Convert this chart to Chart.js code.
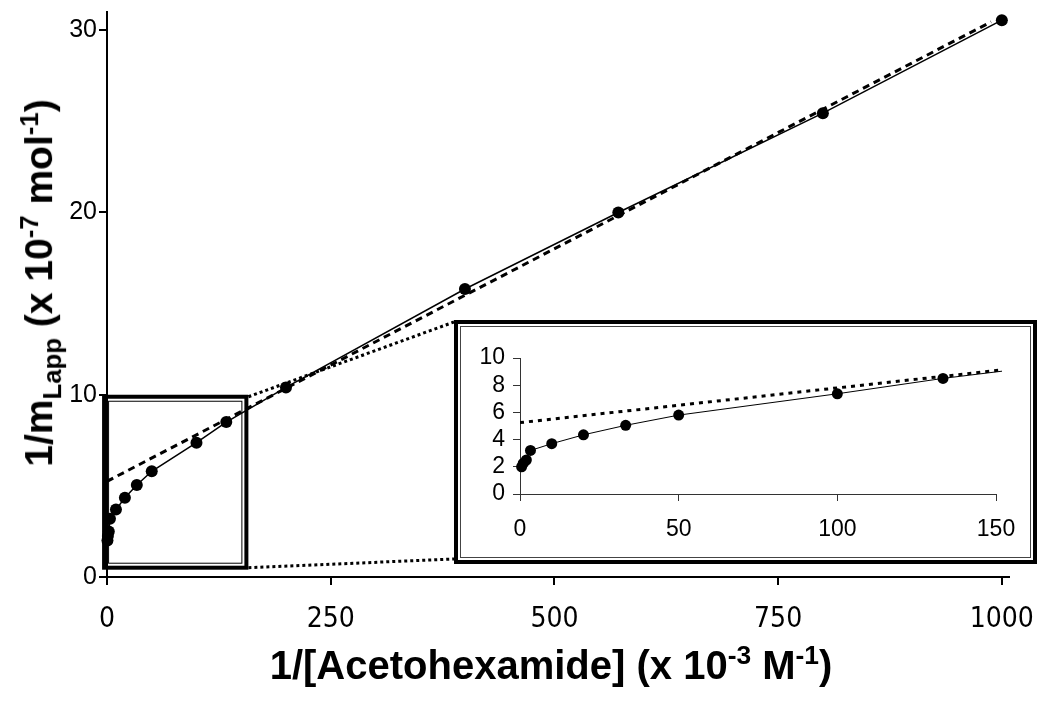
<!DOCTYPE html>
<html>
<head>
<meta charset="utf-8">
<script src="https://cdn.jsdelivr.net/npm/chart.js@4.4.1/dist/chart.umd.min.js"></script>
<style>
  body { margin: 0; background: #fff; }
  #wrap { position: relative; width: 1050px; height: 701px; overflow: hidden; }
  #main { position: absolute; left: 0; top: 0; }
  #inset {
    position: absolute; box-sizing: border-box;
    border: 4px solid #000; padding: 2px; background: #fff;
  }
  #inset .inner { box-sizing: border-box; border: 1px solid #444; width: 100%; height: 100%; }
  .title { position: absolute; color: #000; white-space: nowrap; font-weight: bold; font-family: "Liberation Sans", Arial, sans-serif; }
  .title sup, .title sub { font-size: 66%; }
  #xtitle { font-size: 40px; left: 551px; top: 664px; transform: translate(-50%, -50%); }
  #ytitle { font-size: 39px; left: 41px; top: 283px; transform: translate(-50%, -50%) rotate(-90deg); }
</style>
</head>
<body>
<div id="wrap">
  <canvas id="main" width="1050" height="701"></canvas>
  <div id="inset"><div class="inner"><canvas id="insetCanvas"></canvas></div></div>
  <div class="title" id="xtitle">1/[Acetohexamide] (x 10<sup>-3</sup> M<sup>-1</sup>)</div>
  <div class="title" id="ytitle">1/m<sub>Lapp</sub> (x 10<sup>-7</sup> mol<sup>-1</sup>)</div>
</div>
<script>
// measured points
const invConc = [0.5, 1, 2, 3.3, 10, 20, 33.3, 50, 100, 133.3, 200, 400, 571.4, 800, 1000]
const invMass = [2.0, 2.25, 2.5, 3.2, 3.7, 4.35, 5.05, 5.8, 7.37, 8.5, 10.4, 15.8, 20.0, 25.45, 30.55]
// linear fit (dashed), end points
const fitX = [0, 988]
const fitY = [5.25, 30.46]
// ticks
const mainXTicks = [0, 250, 500, 750, 1000]
const mainYTicks = [0, 10, 20, 30]
const insetXTicks = [0, 50, 100, 150]
const insetYTicks = [0, 2, 4, 6, 8, 10]
// region of the main plot that the inset magnifies
const zoomX = [-5.5, 158]
const zoomY = [0.4, 10]

const INSET = { left: 454, top: 320, width: 583, height: 244 }
const insetEl = document.getElementById('inset')
insetEl.style.left = INSET.left + 'px'
insetEl.style.top = INSET.top + 'px'
insetEl.style.width = INSET.width + 'px'
insetEl.style.height = INSET.height + 'px'

const SANS = '"Liberation Sans", Arial, sans-serif'
const NARROW = '"Liberation Sans Narrow", "DejaVu Sans Condensed", sans-serif'

const pts = () => invConc.map((x, i) => ({ x, y: invMass[i] }))
const fitPts = () => fitX.map((x, i) => ({ x, y: fitY[i] }))

const onlyTicks = list => scale => { scale.ticks = list.map(v => ({ value: v })) }
// fixed axis box, no extra label padding
const fixW = w => s => { s.width = w; s.paddingTop = 0; s.paddingBottom = 0 }
const fixH = h => s => { s.height = h; s.paddingLeft = 0; s.paddingRight = 0 }
const plain = v => String(v)

const zoomBoxPlugin = {
  id: 'zoomBox',
  afterDraw(chart) {
    const { ctx, scales: { x, y } } = chart
    const l = x.getPixelForValue(zoomX[0]), r = x.getPixelForValue(zoomX[1])
    const t = y.getPixelForValue(zoomY[1]), b = y.getPixelForValue(zoomY[0])
    ctx.save()
    ctx.strokeStyle = '#000'
    ctx.lineWidth = 4
    ctx.strokeRect(l + 2, t + 2, r - l - 4, b - t - 4)
    ctx.lineWidth = 1
    ctx.strokeRect(l + 6.5, t + 6.5, r - l - 13, b - t - 13)
    // dotted connectors to the inset frame
    ctx.lineWidth = 3
    ctx.setLineDash([3, 3])
    ctx.beginPath()
    ctx.moveTo(r, t + 2)
    ctx.lineTo(INSET.left, INSET.top + 2)
    ctx.moveTo(r, b - 2)
    ctx.lineTo(INSET.left, INSET.top + INSET.height - 5)
    ctx.stroke()
    ctx.restore()
  }
}

function drawMain() {
  new Chart(document.getElementById('main'), {
    type: 'scatter',
    data: {
      datasets: [
        { data: fitPts(), showLine: true, borderColor: '#000', borderWidth: 3, borderDash: [7, 5], pointRadius: 0 },
        { data: pts(), showLine: true, borderColor: '#000', borderWidth: 1.5, pointRadius: 6,
          pointBackgroundColor: '#000', pointBorderWidth: 0, tension: 0, clip: 10 }
      ]
    },
    options: {
      responsive: false, animation: false, devicePixelRatio: 1,
      layout: { padding: { top: 12, right: 41, left: 0, bottom: 0 } },
      plugins: { legend: { display: false }, tooltip: { enabled: false } },
      scales: {
        x: {
          type: 'linear', min: 0, max: 1008,
          afterBuildTicks: onlyTicks(mainXTicks),
          afterFit: fixH(124),
          ticks: { color: '#000', padding: 18, autoSkip: false, maxRotation: 0, callback: plain,
            font: { family: NARROW, size: 28 } },
          grid: { drawOnChartArea: false, tickLength: 8, color: '#000', lineWidth: 2 },
          border: { color: '#000', width: 2 }
        },
        y: {
          min: 0, max: 31,
          afterBuildTicks: onlyTicks(mainYTicks),
          afterFit: fixW(107),
          ticks: { color: '#000', padding: 2, autoSkip: false, callback: plain,
            font: { family: SANS, size: 25 } },
          grid: { drawOnChartArea: false, tickLength: 8, color: '#000', lineWidth: 2 },
          border: { color: '#000', width: 2 }
        }
      }
    },
    plugins: [zoomBoxPlugin]
  })
}

function drawInset() {
  // inset canvas fills the inner frame
  const ic = document.getElementById('insetCanvas')
  ic.width = INSET.width - 14
  ic.height = INSET.height - 14
  const insetFont = { family: SANS, size: 23 }
  new Chart(ic, {
    type: 'scatter',
    data: {
      datasets: [
        { data: fitPts(), showLine: true, borderColor: '#000', borderWidth: 3, borderDash: [4, 5], pointRadius: 0,
          clip: { left: 0, top: 5, right: 6, bottom: 5 } },
        { data: pts(), showLine: true, borderColor: '#000', borderWidth: 1, pointRadius: 5.5,
          pointBackgroundColor: '#000', pointBorderWidth: 0, tension: 0,
          clip: { left: 10, top: 10, right: 6, bottom: 10 } }
      ]
    },
    options: {
      responsive: false, animation: false, devicePixelRatio: 1,
      layout: { padding: { top: 31, right: 34, left: 0, bottom: 0 } },
      plugins: { legend: { display: false }, tooltip: { enabled: false } },
      scales: {
        x: {
          type: 'linear', min: 0, max: 150,
          afterBuildTicks: onlyTicks(insetXTicks),
          afterFit: fixH(63),
          ticks: { color: '#000', padding: 15, autoSkip: false, maxRotation: 0, callback: plain, font: insetFont },
          grid: { drawOnChartArea: false, tickLength: 7, color: '#333', lineWidth: 1 },
          border: { color: '#333', width: 1 }
        },
        y: {
          min: 0, max: 10,
          afterBuildTicks: onlyTicks(insetYTicks),
          afterFit: fixW(59),
          ticks: { color: '#000', padding: 8, autoSkip: false, callback: plain, font: insetFont },
          grid: { drawOnChartArea: false, tickLength: 7, color: '#333', lineWidth: 1 },
          border: { color: '#333', width: 1 }
        }
      }
    }
  })
}

// make sure the canvas fonts are ready before drawing
Promise.all([
  document.fonts.load('25px "Liberation Sans"'),
  document.fonts.load('28px "Liberation Sans Narrow"')
]).catch(() => {}).then(() => { drawMain(); drawInset() })
</script>
</body>
</html>
